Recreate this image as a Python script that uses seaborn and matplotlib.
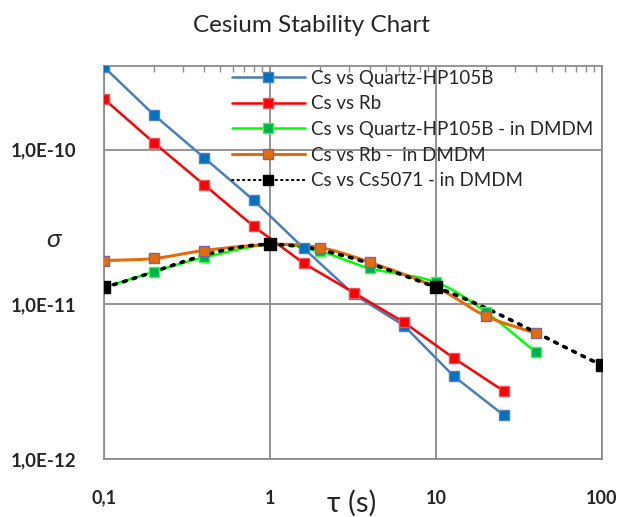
import numpy as np
import pandas as pd
import matplotlib
matplotlib.use("Agg")
import matplotlib.pyplot as plt
from matplotlib.lines import Line2D
from matplotlib.ticker import FixedLocator, NullFormatter, LogLocator
import seaborn as sns

# ---- data: Allan deviation sigma(tau) ----
tau_quartz = [0.1, 0.2, 0.4, 0.8, 1.6, 3.2, 6.4, 12.8, 25.6]
sig_quartz = [3.43e-10, 1.68e-10, 8.9e-11, 4.7e-11, 2.3e-11, 1.16e-11, 7.3e-12, 3.43e-12, 1.92e-12]

tau_rb = [0.1, 0.2, 0.4, 0.8, 1.6, 3.2, 6.4, 12.8, 25.6]
sig_rb = [2.13e-10, 1.11e-10, 5.95e-11, 3.19e-11, 1.84e-11, 1.19e-11, 7.66e-12, 4.49e-12, 2.75e-12]

tau_quartz_dmdm = [0.1, 0.2, 0.4, 1, 2, 4, 10, 20, 40]
sig_quartz_dmdm = [1.29e-11, 1.63e-11, 2.01e-11, 2.44e-11, 2.2e-11, 1.71e-11, 1.39e-11, 8.9e-12, 4.9e-12]

tau_rb_dmdm = [0.1, 0.2, 0.4, 1, 2, 4, 10, 20, 40]
sig_rb_dmdm = [1.92e-11, 1.98e-11, 2.23e-11, 2.44e-11, 2.33e-11, 1.87e-11, 1.29e-11, 8.4e-12, 6.5e-12]

tau_cs = [0.1, 1, 10, 100]
sig_cs = [1.29e-11, 2.44e-11, 1.29e-11, 4.04e-12]

labels = ["Cs vs Quartz-HP105B", "Cs vs Rb", "Cs vs Quartz-HP105B - in DMDM",
          "Cs vs Rb -  in DMDM", "Cs vs Cs5071 - in DMDM"]
x_ticks = [0.1, 1, 10, 100]
x_tick_labels = ["0,1", "1", "10", "100"]
y_ticks = [1e-12, 1e-11, 1e-10]
y_tick_labels = ["1,0E-12", "1,0E-11", "1,0E-10"]


def smooth(xs, ys, n=30):
    """Catmull-Rom curve through the points, evaluated in log-log space."""
    lx, ly = np.log10(xs), np.log10(ys)
    px = np.concatenate([[2 * lx[0] - lx[1]], lx, [2 * lx[-1] - lx[-2]]])
    py = np.concatenate([[2 * ly[0] - ly[1]], ly, [2 * ly[-1] - ly[-2]]])
    ox, oy = [], []
    for i in range(1, len(px) - 2):
        t = np.linspace(0, 1, n, endpoint=False)
        for p, out in ((px, ox), (py, oy)):
            p0, p1, p2, p3 = p[i - 1], p[i], p[i + 1], p[i + 2]
            out.extend(0.5 * ((2 * p1) + (-p0 + p2) * t
                              + (2 * p0 - 5 * p1 + 4 * p2 - p3) * t ** 2
                              + (-p0 + 3 * p1 - 3 * p2 + p3) * t ** 3))
    ox.append(lx[-1]); oy.append(ly[-1])
    return 10 ** np.array(ox), 10 ** np.array(oy)


sns.set_theme(style="white")
plt.rcParams["font.family"] = ["Lato", "DejaVu Sans"]

fig = plt.figure(figsize=(6.27, 5.17), dpi=100)
ax = fig.add_axes([104 / 627, 1 - 459 / 517, (602 - 104) / 627, (459 - 66) / 517])

series = [
    dict(x=tau_quartz, y=sig_quartz, line="#4A7EBB", face="#0070C0", edge="#4F81BD",
         ms=7, lms=7, smooth=False, ls="-", lw=1.8, llw=1.8),
    dict(x=tau_rb, y=sig_rb, line="#FF0000", face="#FF0000", edge="#E8545C",
         ms=7, lms=7, smooth=False, ls="-", lw=1.8, llw=1.8),
    dict(x=tau_quartz_dmdm, y=sig_quartz_dmdm, line="#00FF00", face="#00B050", edge="#33FF33",
         ms=7, lms=7, smooth=True, ls="-", lw=1.8, llw=1.8),
    dict(x=tau_rb_dmdm, y=sig_rb_dmdm, line="#E46C0A", face="#E46C0A", edge="#8064A2",
         ms=7, lms=7, smooth=True, ls="-", lw=2.2, llw=2.2),
    dict(x=tau_cs, y=sig_cs, line="#000000", face="#000000", edge="#000000",
         ms=9, lms=7, smooth=True, ls=(0, (0.8, 2.0)), lw=2.6, llw=1.4),
]

handles = []
for s, lab in zip(series, labels):
    if s["smooth"]:
        cx, cy = smooth(s["x"], s["y"])
    else:
        cx, cy = np.array(s["x"]), np.array(s["y"])
    df_line = pd.DataFrame({"tau": cx, "sigma": cy})
    sns.lineplot(data=df_line, x="tau", y="sigma", ax=ax, color=s["line"], lw=s["lw"],
                 linestyle=s["ls"], sort=False, estimator=None, dash_capstyle="round",
                 solid_capstyle="round", zorder=3)
    df_pts = pd.DataFrame({"tau": s["x"], "sigma": s["y"]})
    sns.scatterplot(data=df_pts, x="tau", y="sigma", ax=ax, marker="s", s=s["ms"] ** 2,
                    color=s["face"], edgecolor=s["edge"], linewidth=1.0, zorder=4)
    handles.append(Line2D([], [], color=s["line"], lw=s["llw"], linestyle=s["ls"],
                          dash_capstyle="round", marker="s", markersize=s["lms"],
                          markerfacecolor=s["face"], markeredgecolor=s["edge"],
                          markeredgewidth=1.0))

ax.set_xscale("log")
ax.set_yscale("log")
ax.set_xlim(0.1, 100)
ax.set_ylim(1e-12, 3.48e-10)

ax.xaxis.set_major_locator(FixedLocator(x_ticks))
ax.set_xticklabels(x_tick_labels)
ax.xaxis.set_minor_locator(LogLocator(base=10, subs=np.arange(2, 10)))
ax.xaxis.set_minor_formatter(NullFormatter())
ax.yaxis.set_major_locator(FixedLocator(y_ticks))
ax.set_yticklabels(y_tick_labels)
ax.yaxis.set_minor_locator(FixedLocator([]))

ax.grid(True, which="major", color="#8C8C8C", lw=1.3)
ax.set_axisbelow(True)
for sp in ax.spines.values():
    sp.set_color("#8C8C8C")
    sp.set_linewidth(1.3)

# minor ticks sit on the top edge, pointing inward; labels hang well below the plot
ax.tick_params(axis="x", which="major", length=0, pad=22, labelsize=13,
               labelcolor="#262626")
ax.tick_params(axis="x", which="minor", top=True, bottom=False, direction="in",
               length=4, width=1.0, color="#8C8C8C")
ax.tick_params(axis="y", which="major", length=0, pad=20, labelsize=13.5,
               labelcolor="#262626")
for t in ax.get_xticklabels() + ax.get_yticklabels():
    t.set_fontweight("bold")

ax.set_xlabel("")
ax.set_ylabel("")
fig.text(352 / 627, 1 - 503 / 517, "τ (s)", ha="center", va="center", fontsize=21,
         color="#262626")
fig.text(54 / 627, 1 - 240 / 517, "σ", ha="center", va="center", fontsize=19,
         style="italic", color="#262626")
fig.text(311 / 627, 1 - 25 / 517, "Cesium Stability Chart", ha="center", va="center",
         fontsize=17.5, color="#262626")

ax.legend(handles, labels, loc="upper left", bbox_to_anchor=(228 / 627, 1 - 66 / 517),
          bbox_transform=fig.transFigure, frameon=False, fontsize=13.5,
          handlelength=3.9, handletextpad=0.35, labelspacing=0.46, borderaxespad=0,
          borderpad=0.2)

fig.savefig("out.png", dpi=100)
